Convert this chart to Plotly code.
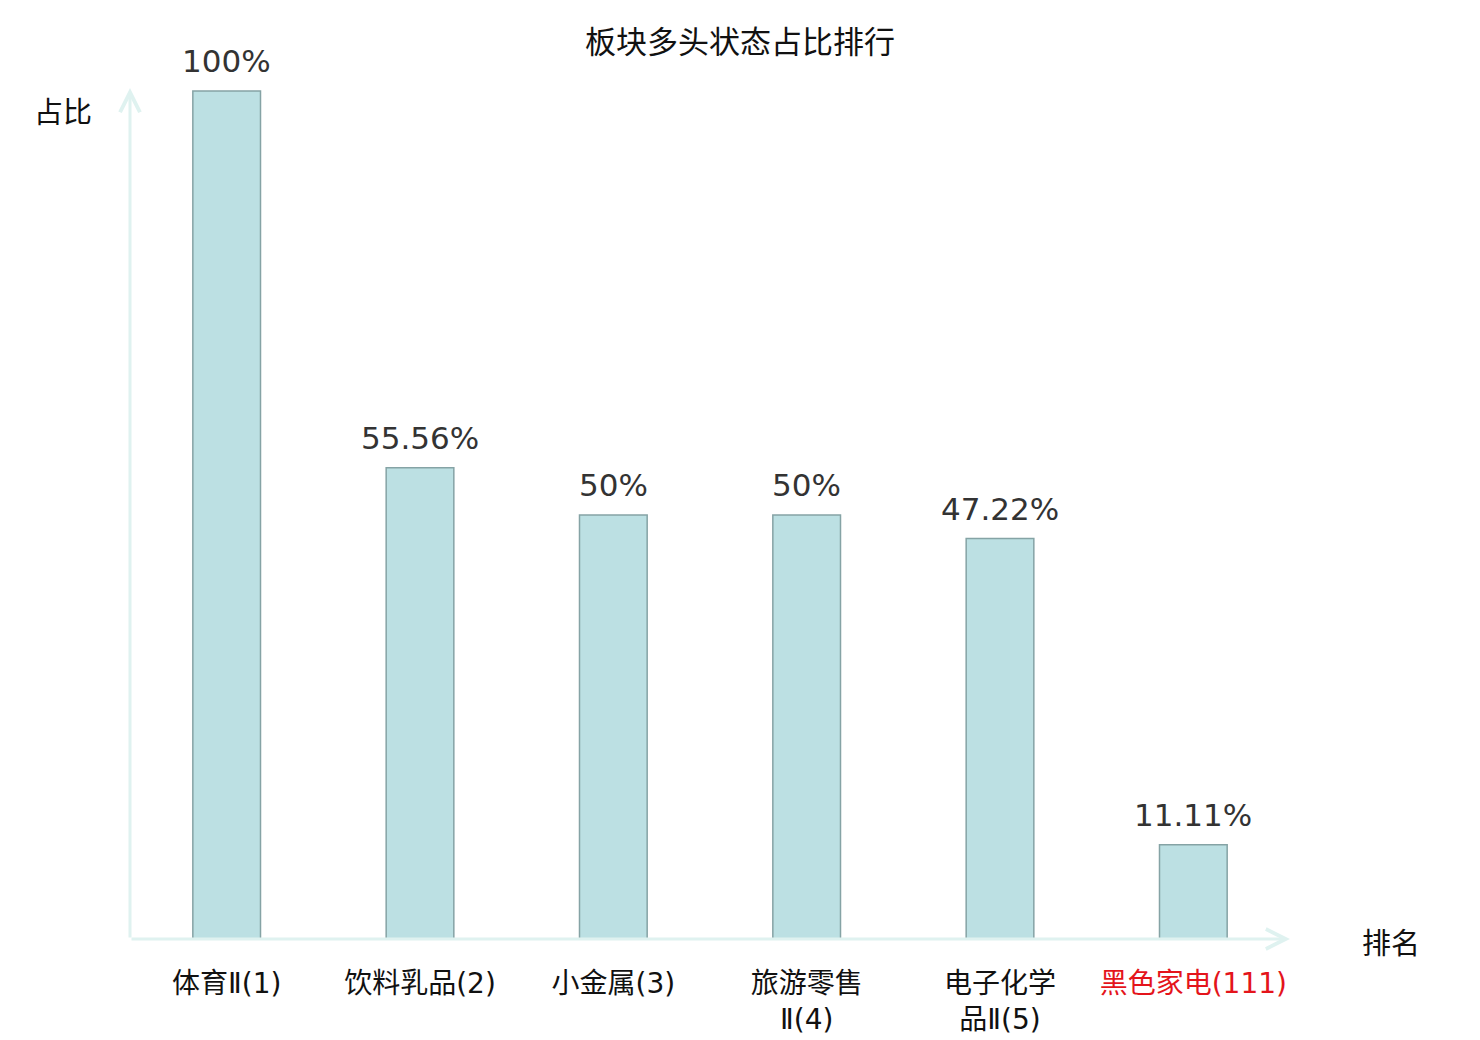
"""板块多头状态占比排行 bar chart."""

import plotly.graph_objects as go

categories = ["体育Ⅱ(1)", "饮料乳品(2)", "小金属(3)", "旅游零售Ⅱ(4)", "电子化学品Ⅱ(5)", "黑色家电(111)"]
tick_labels = [
    "体育Ⅱ(1)",
    "饮料乳品(2)",
    "小金属(3)",
    "旅游零售<br>Ⅱ(4)",
    "电子化学<br>品Ⅱ(5)",
    "<span style='color:#e4141b'>黑色家电(111)</span>",
]
ratios = [100, 55.56, 50, 50, 47.22, 11.11]

CJK = "Noto Sans CJK SC, DejaVu Sans, sans-serif"
TICK_FONT = "DejaVu Sans, Noto Sans CJK SC, sans-serif"
AXIS_COLOR = "#dff2f0"

fig = go.Figure()
fig.add_trace(
    go.Bar(
        x=categories,
        y=ratios,
        width=0.35,
        marker=dict(color="#bce0e3", line=dict(color="#85a3a5", width=1.5)),
        cliponaxis=False,
        hoverinfo="x+y",
    )
)

# value labels above the bars
for cat, val in zip(categories, ratios):
    fig.add_annotation(x=cat, y=val, text=f"{val:g}%", showarrow=False, yanchor="bottom", yshift=10,
                       font=dict(family="DejaVu Sans", size=31, color="#333333"))

# axis arrows (plot area is 1160 x 851 px)
fig.add_annotation(x=0, y=1, xref="paper", yref="paper", ax=0, ay=851, axref="pixel", ayref="pixel",
                   text="", showarrow=True, arrowhead=5, arrowsize=1.3, arrowwidth=3, arrowcolor=AXIS_COLOR)
fig.add_annotation(x=1, y=0, xref="paper", yref="paper", ax=-1160, ay=0, axref="pixel", ayref="pixel",
                   text="", showarrow=True, arrowhead=5, arrowsize=1.3, arrowwidth=3, arrowcolor=AXIS_COLOR)

fig.add_annotation(x=-0.058, y=0.974, xref="paper", yref="paper", text="占比", showarrow=False,
                   xanchor="center", yanchor="middle", font=dict(family=CJK, size=29, color="#111111"))
fig.add_annotation(x=1.087, y=-0.002, xref="paper", yref="paper", text="排名", showarrow=False,
                   xanchor="center", yanchor="middle", font=dict(family=CJK, size=29, color="#111111"))

fig.update_layout(
    width=1480,
    height=1040,
    margin=dict(l=122, r=198, t=80, b=109),
    paper_bgcolor="white",
    plot_bgcolor="white",
    showlegend=False,
    title=dict(text="板块多头状态占比排行", x=732 / 1480, xref="container", xanchor="center",
               y=1 - 34 / 1040, yref="container", yanchor="middle",
               font=dict(family=CJK, size=31, color="#111111")),
    xaxis=dict(
        type="category",
        range=[-0.5, 5.5],
        tickvals=categories,
        ticktext=tick_labels,
        showline=False,
        showgrid=False,
        zeroline=False,
        ticks="",
        ticklabelstandoff=25,
        tickfont=dict(family=TICK_FONT, size=28, color="#111111"),
    ),
    yaxis=dict(
        range=[0, 100.35],
        showticklabels=False,
        showgrid=False,
        zeroline=False,
        showline=False,
        ticks="",
    ),
)

fig.write_html("out.html")
